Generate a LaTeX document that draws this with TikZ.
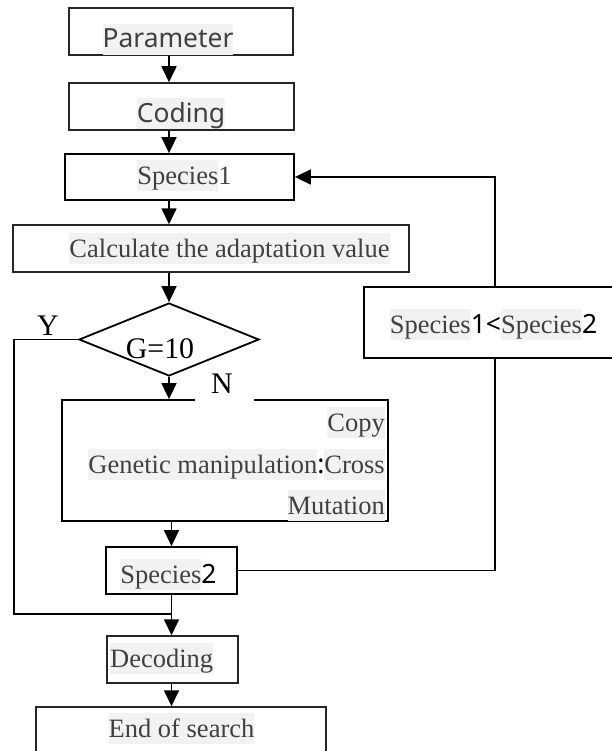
\documentclass[tikz,border=0pt]{standalone}
\usepackage{fontspec}
\setmainfont{Liberation Serif}
\newfontfamily\uisans{Noto Sans}
\usetikzlibrary{arrows.meta,shapes.geometric}
\definecolor{txt}{HTML}{404040}
\definecolor{hlg}{HTML}{F2F2F2}
\newcommand{\hlt}[1]{{\setlength{\fboxsep}{0pt}\colorbox{hlg}{\rule[-0.27em]{0pt}{1.17em}#1}}}
\tikzset{
  box/.style={draw=black!85, line width=1.5bp, inner sep=0pt},
  boxb/.style={draw=black, line width=1.8bp, inner sep=0pt},
  arr/.style={line width=1.7bp, -{Triangle[length=16bp,width=15bp]}},
  conn/.style={line width=1.7bp},
  tx/.style={inner sep=0pt, anchor=base, text=txt, font=\fontsize{26.6}{32}\selectfont},
  txk/.style={inner sep=0pt, anchor=base, text=black, font=\fontsize{30}{34}\selectfont}
}
\begin{document}
\begin{tikzpicture}[x=1bp,y=-1bp]
\clip (0,0) rectangle (612,751);
\fill[white] (0,0) rectangle (612,751);
% boxes
\node[box, minimum width=224bp, minimum height=47bp] (param) at (181,31.5) {};
\node[box, minimum width=225bp, minimum height=47bp] (coding) at (181.5,106.5) {};
\node[boxb, minimum width=229bp, minimum height=46bp] (s1) at (179.5,177) {};
\node[box, minimum width=396bp, minimum height=47bp] (calc) at (211,248.5) {};
\node[boxb, diamond, minimum width=180bp, minimum height=73bp, shape aspect=2.46] (dia) at (169,339.5) {};
\node[boxb, minimum width=326bp, minimum height=121bp] (gen) at (225,460.5) {};
\node[boxb, minimum width=250bp, minimum height=71bp] (cmp) at (489,322.5) {};
\node[boxb, minimum width=131bp, minimum height=47bp] (s2) at (171.5,570.5) {};
\node[box, minimum width=131bp, minimum height=47bp] (dec) at (172.5,659.5) {};
\node[box, minimum width=290bp, minimum height=48bp] (endb) at (181,731) {};
% texts
\node[tx, font=\uisans\fontsize{26.5}{32}\selectfont] (tparam) at (168,48) {\hlt{Parameter}};
\node[tx, font=\uisans\fontsize{26.5}{32}\selectfont] (tcoding) at (181,122) {\hlt{Coding}};
\node[tx] (ts1) at (184.5,184) {\hlt{Species}1};
\node[tx] (tcalc) at (229.5,257) {\hlt{Calculate the adaptation value}};
\node[txk] (tdia) at (160,358) {G=10};
\node[txk] (ty) at (48,335) {Y};
\node[fill=white, inner sep=0pt, minimum width=59bp, minimum height=26bp] (nbg) at (224.5,388.5) {};
\node[txk] (tn) at (222,393) {N};
\node[tx, anchor=base east] (tcopy) at (385,431) {\hlt{Copy}};
\node[tx, anchor=base east] (tcross) at (385,473) {\hlt{Genetic manipulation}\textcolor{black}{\uisans :}\hlt{Cross}};
\node[tx, anchor=base east] (tmut) at (385,514) {\hlt{Mutation}};
\node[tx] (tcmp) at (493.5,333) {\hlt{Species}\textcolor{black}{\uisans 1<}\hlt{Species}\textcolor{black}{\uisans 2}};
\node[tx] (ts2) at (168.5,583) {\hlt{Species}\textcolor{black}{\uisans 2}};
\node[tx, anchor=base west] (tdec) at (110,667) {\hlt{Decoding}};
\node[tx] (tend) at (181.5,737) {\hlt{End of search}};
% connectors
\coordinate (cx) at (169,0);
\coordinate (cx2) at (171.5,0);
\coordinate (fb) at (495,0);
\coordinate (yl) at (14,614);
\draw[arr] (param.south -| cx) -- (coding.north -| cx);
\draw[arr] (coding.south -| cx) -- (s1.north -| cx);
\draw[arr] (s1.south -| cx) -- (calc.north -| cx);
\draw[arr] (calc.south -| cx) -- (dia.north);
\draw[arr] (dia.south) -- (gen.north -| dia.south);
\draw[arr] (gen.south -| cx2) -- (s2.north -| cx2);
\draw[arr] (s2.south -| cx2) -- (dec.north -| cx2);
\draw[arr] (dec.south -| cx2) -- (endb.north -| cx2);
\draw[conn] (dia.west) -| (yl) -- (yl -| cx2);
\draw[conn] (s2.east) -| (cmp.south -| fb);
\draw[arr] (cmp.north -| fb) |- (s1.east);
\end{tikzpicture}
\end{document}
